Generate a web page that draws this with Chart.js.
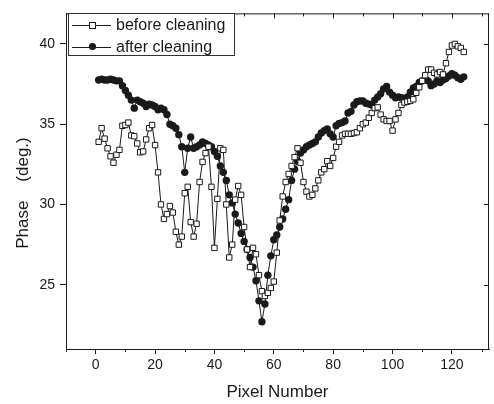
<!DOCTYPE html>
<html>
<head>
<meta charset="utf-8">
<script src="https://cdn.jsdelivr.net/npm/chart.js@4.4.0/dist/chart.umd.min.js"></script>
<style>
	html, body { margin: 0; padding: 0; background: #fff; }
</style>
</head>
<body>
<canvas id="myChart" width="494" height="404"></canvas>
<script>
// # ===============================
// # = Data
// # ===============================
var pixels = [1,2,3,4,5,6,7,8,9,10,11,12,13,14,15,16,17,18,19,20,
	21,22,23,24,25,26,27,28,29,30,31,32,33,34,35,36,37,38,39,40,
	41,42,43,44,45,46,47,48,49,50,51,52,53,54,55,56,57,58,59,60,
	61,62,63,64,65,66,67,68,69,70,71,72,73,74,75,76,77,78,79,80,
	81,82,83,84,85,86,87,88,89,90,91,92,93,94,95,96,97,98,99,100,
	101,102,103,104,105,106,107,108,109,110,111,112,113,114,115,116,117,118,119,120,
	121,122,123,124];

var beforeCleaning = [33.9,34.75,34.1,33.5,33.0,32.6,33.1,33.4,34.9,34.95,
	35.1,34.3,34.25,33.8,33.25,33.3,34.05,34.75,34.95,33.7,
	32.0,30.0,29.1,29.4,29.9,29.5,28.3,27.5,28.0,30.7,
	31.1,28.9,28.0,28.8,31.4,32.65,33.2,33.6,31.1,27.3,
	30.35,33.5,33.4,30.0,26.7,27.5,30.3,31.15,30.6,28.6,
	27.2,26.1,27.3,26.9,25.6,24.6,24.3,24.5,24.8,25.2,
	27.0,29.0,30.5,31.4,31.9,32.4,32.95,33.5,32.6,31.4,
	30.8,30.5,30.6,31.0,31.5,32.0,32.2,32.7,32.4,32.9,
	33.6,33.9,34.3,34.4,34.4,34.4,34.45,34.5,34.75,35.0,
	35.1,35.4,35.7,36.0,36.05,35.6,35.3,35.2,35.2,34.6,
	35.3,35.7,36.2,36.35,36.4,36.45,36.55,36.95,37.3,37.7,
	38.05,38.4,38.4,38.2,38.1,38.25,38.1,38.8,39.5,39.9,
	40.0,39.85,39.75,39.5];

var afterCleaning = [37.75,37.8,37.75,37.75,37.8,37.75,37.7,37.7,37.4,37.1,
	36.8,36.5,36.0,36.5,36.4,36.3,36.1,36.25,36.2,36.1,
	35.9,36.0,35.9,35.6,35.0,34.9,34.75,34.35,33.6,32.0,
	33.5,34.2,33.5,33.6,33.7,33.9,33.8,33.7,33.6,33.3,
	33.0,32.4,32.0,31.5,30.6,30.1,29.4,28.85,28.2,27.7,
	27.2,26.7,26.1,25.25,24.0,22.7,23.8,25.6,26.8,27.8,
	28.1,28.6,29.1,29.7,30.3,31.5,32.2,32.7,33.2,33.4,
	33.6,33.7,33.8,33.9,34.2,34.45,34.6,34.7,34.4,34.2,
	34.9,35.05,35.1,35.2,35.7,35.8,36.2,36.4,36.45,36.45,
	36.3,36.25,36.2,36.5,36.7,36.9,37.2,37.35,37.0,36.8,
	36.65,36.7,36.65,36.55,36.7,37.0,37.25,37.35,37.6,37.7,
	37.8,37.7,37.4,37.5,37.7,37.6,37.75,37.85,38.0,38.15,
	38.05,37.9,37.8,37.95];

var xTicks = [0, 20, 40, 60, 80, 100, 120];
var xMinorTicks = [-10, 10, 30, 50, 70, 90, 110, 130];
var yTicks = [25, 30, 35, 40];
var seriesNames = ['before cleaning', 'after cleaning'];

var ink = '#1a1a1a';
var fontFam = '"Liberation Sans", Arial, sans-serif';

// # ===============================
// # = Frame, minor ticks and legend
// # ===============================
var frame = {
	id: 'frame',
	afterDraw: function(chart) {
		var ctx = chart.ctx;
		var a = chart.chartArea;
		var sx = chart.scales.x, sy = chart.scales.y;
		ctx.save();
		ctx.strokeStyle = ink;
		ctx.lineWidth = 1;
		ctx.beginPath();
		// top and right sides
		ctx.moveTo(a.left, a.top + 0.5);
		ctx.lineTo(a.right, a.top + 0.5);
		ctx.moveTo(a.right - 0.5, a.top);
		ctx.lineTo(a.right - 0.5, a.bottom);
		// bottom minor ticks (outward)
		xMinorTicks.forEach(function(v) {
			var px = Math.round(sx.getPixelForValue(v)) + 0.5;
			ctx.moveTo(px, a.bottom);
			ctx.lineTo(px, a.bottom + 3);
		});
		// top ticks (inward)
		xTicks.concat(xMinorTicks).forEach(function(v) {
			var px = Math.round(sx.getPixelForValue(v)) + 0.5;
			var len = (v % 20 === 0) ? 5 : 3;
			ctx.moveTo(px, a.top);
			ctx.lineTo(px, a.top + len);
		});
		// right ticks (inward)
		yTicks.forEach(function(v) {
			var py = Math.round(sy.getPixelForValue(v)) + 0.5;
			ctx.moveTo(a.right, py);
			ctx.lineTo(a.right - 5, py);
		});
		ctx.stroke();

		// legend box
		var bx = 68.5, by = 13.5, bw = 166, bh = 42;
		ctx.fillStyle = '#fff';
		ctx.fillRect(bx, by, bw, bh);
		ctx.strokeStyle = '#333';
		ctx.strokeRect(bx, by, bw, bh);
		var rows = [25, 46.5];
		ctx.font = '16px ' + fontFam;
		ctx.textBaseline = 'middle';
		ctx.textAlign = 'left';
		rows.forEach(function(ry, i) {
			ctx.strokeStyle = ink;
			ctx.lineWidth = 1;
			ctx.beginPath();
			ctx.moveTo(72, Math.round(ry) + 0.5);
			ctx.lineTo(111, Math.round(ry) + 0.5);
			ctx.stroke();
			if (i === 0) {
				ctx.fillStyle = '#fff';
				ctx.fillRect(89.5, Math.round(ry) - 2.5, 6, 6);
				ctx.strokeRect(89.5, Math.round(ry) - 2.5, 6, 6);
			} else {
				ctx.fillStyle = ink;
				ctx.beginPath();
				ctx.arc(92.5, ry, 3.6, 0, Math.PI * 2);
				ctx.fill();
			}
			ctx.fillStyle = ink;
			ctx.fillText(seriesNames[i], 116, ry + 1);
		});
		ctx.restore();
	}
};

const ctx = document.getElementById('myChart');

new Chart(ctx, {
	type: 'line',
	data: {
		labels: pixels,
		datasets: [{
			label: seriesNames[0],
			data: beforeCleaning,
			borderColor: ink,
			borderWidth: 1,
			pointStyle: 'rect',
			pointRadius: 3.8,
			pointBackgroundColor: '#fff',
			pointBorderColor: ink,
			pointBorderWidth: 1,
			tension: 0,
			order: 0
		}, {
			label: seriesNames[1],
			data: afterCleaning,
			borderColor: ink,
			borderWidth: 1,
			pointStyle: 'circle',
			pointRadius: 3.7,
			pointBackgroundColor: ink,
			pointBorderColor: ink,
			pointBorderWidth: 0,
			tension: 0,
			order: 1
		}]
	},
	options: {
		responsive: false,
		animation: false,
		devicePixelRatio: 1,
		layout: { padding: { top: 10, right: 1, left: 0, bottom: 0 } },
		plugins: {
			legend: { display: false },
			tooltip: { enabled: false }
		},
		scales: {
			x: {
				type: 'linear',
				min: -10,
				max: 132.5,
				afterBuildTicks: function(scale) {
					scale.ticks = xTicks.map(function(v) { return { value: v }; });
				},
				afterFit: function(scale) { scale.height = 55; },
				grid: { display: true, drawOnChartArea: false, drawTicks: true, tickLength: 5, color: ink },
				border: { display: true, color: ink, width: 1 },
				ticks: { color: ink, font: { size: 14, family: fontFam }, padding: 3, maxRotation: 0 },
				title: { display: true, text: 'Pixel Number', color: ink, font: { size: 17, family: fontFam }, padding: { top: 0, bottom: 1.5 } }
			},
			y: {
				min: 21,
				max: 41.9,
				afterBuildTicks: function(scale) {
					scale.ticks = yTicks.map(function(v) { return { value: v }; });
				},
				afterFit: function(scale) { scale.width = 66; },
				grid: { display: true, drawOnChartArea: false, drawTicks: true, tickLength: 6, color: ink },
				border: { display: true, color: ink, width: 1 },
				ticks: { color: ink, font: { size: 14, family: fontFam }, padding: 5 },
				title: { display: true, text: 'Phase    (deg.)     ', color: ink, font: { size: 17, family: fontFam }, padding: { top: 13, bottom: 0 } }
			}
		}
	},
	plugins: [frame]
});
</script>
</body>
</html>
